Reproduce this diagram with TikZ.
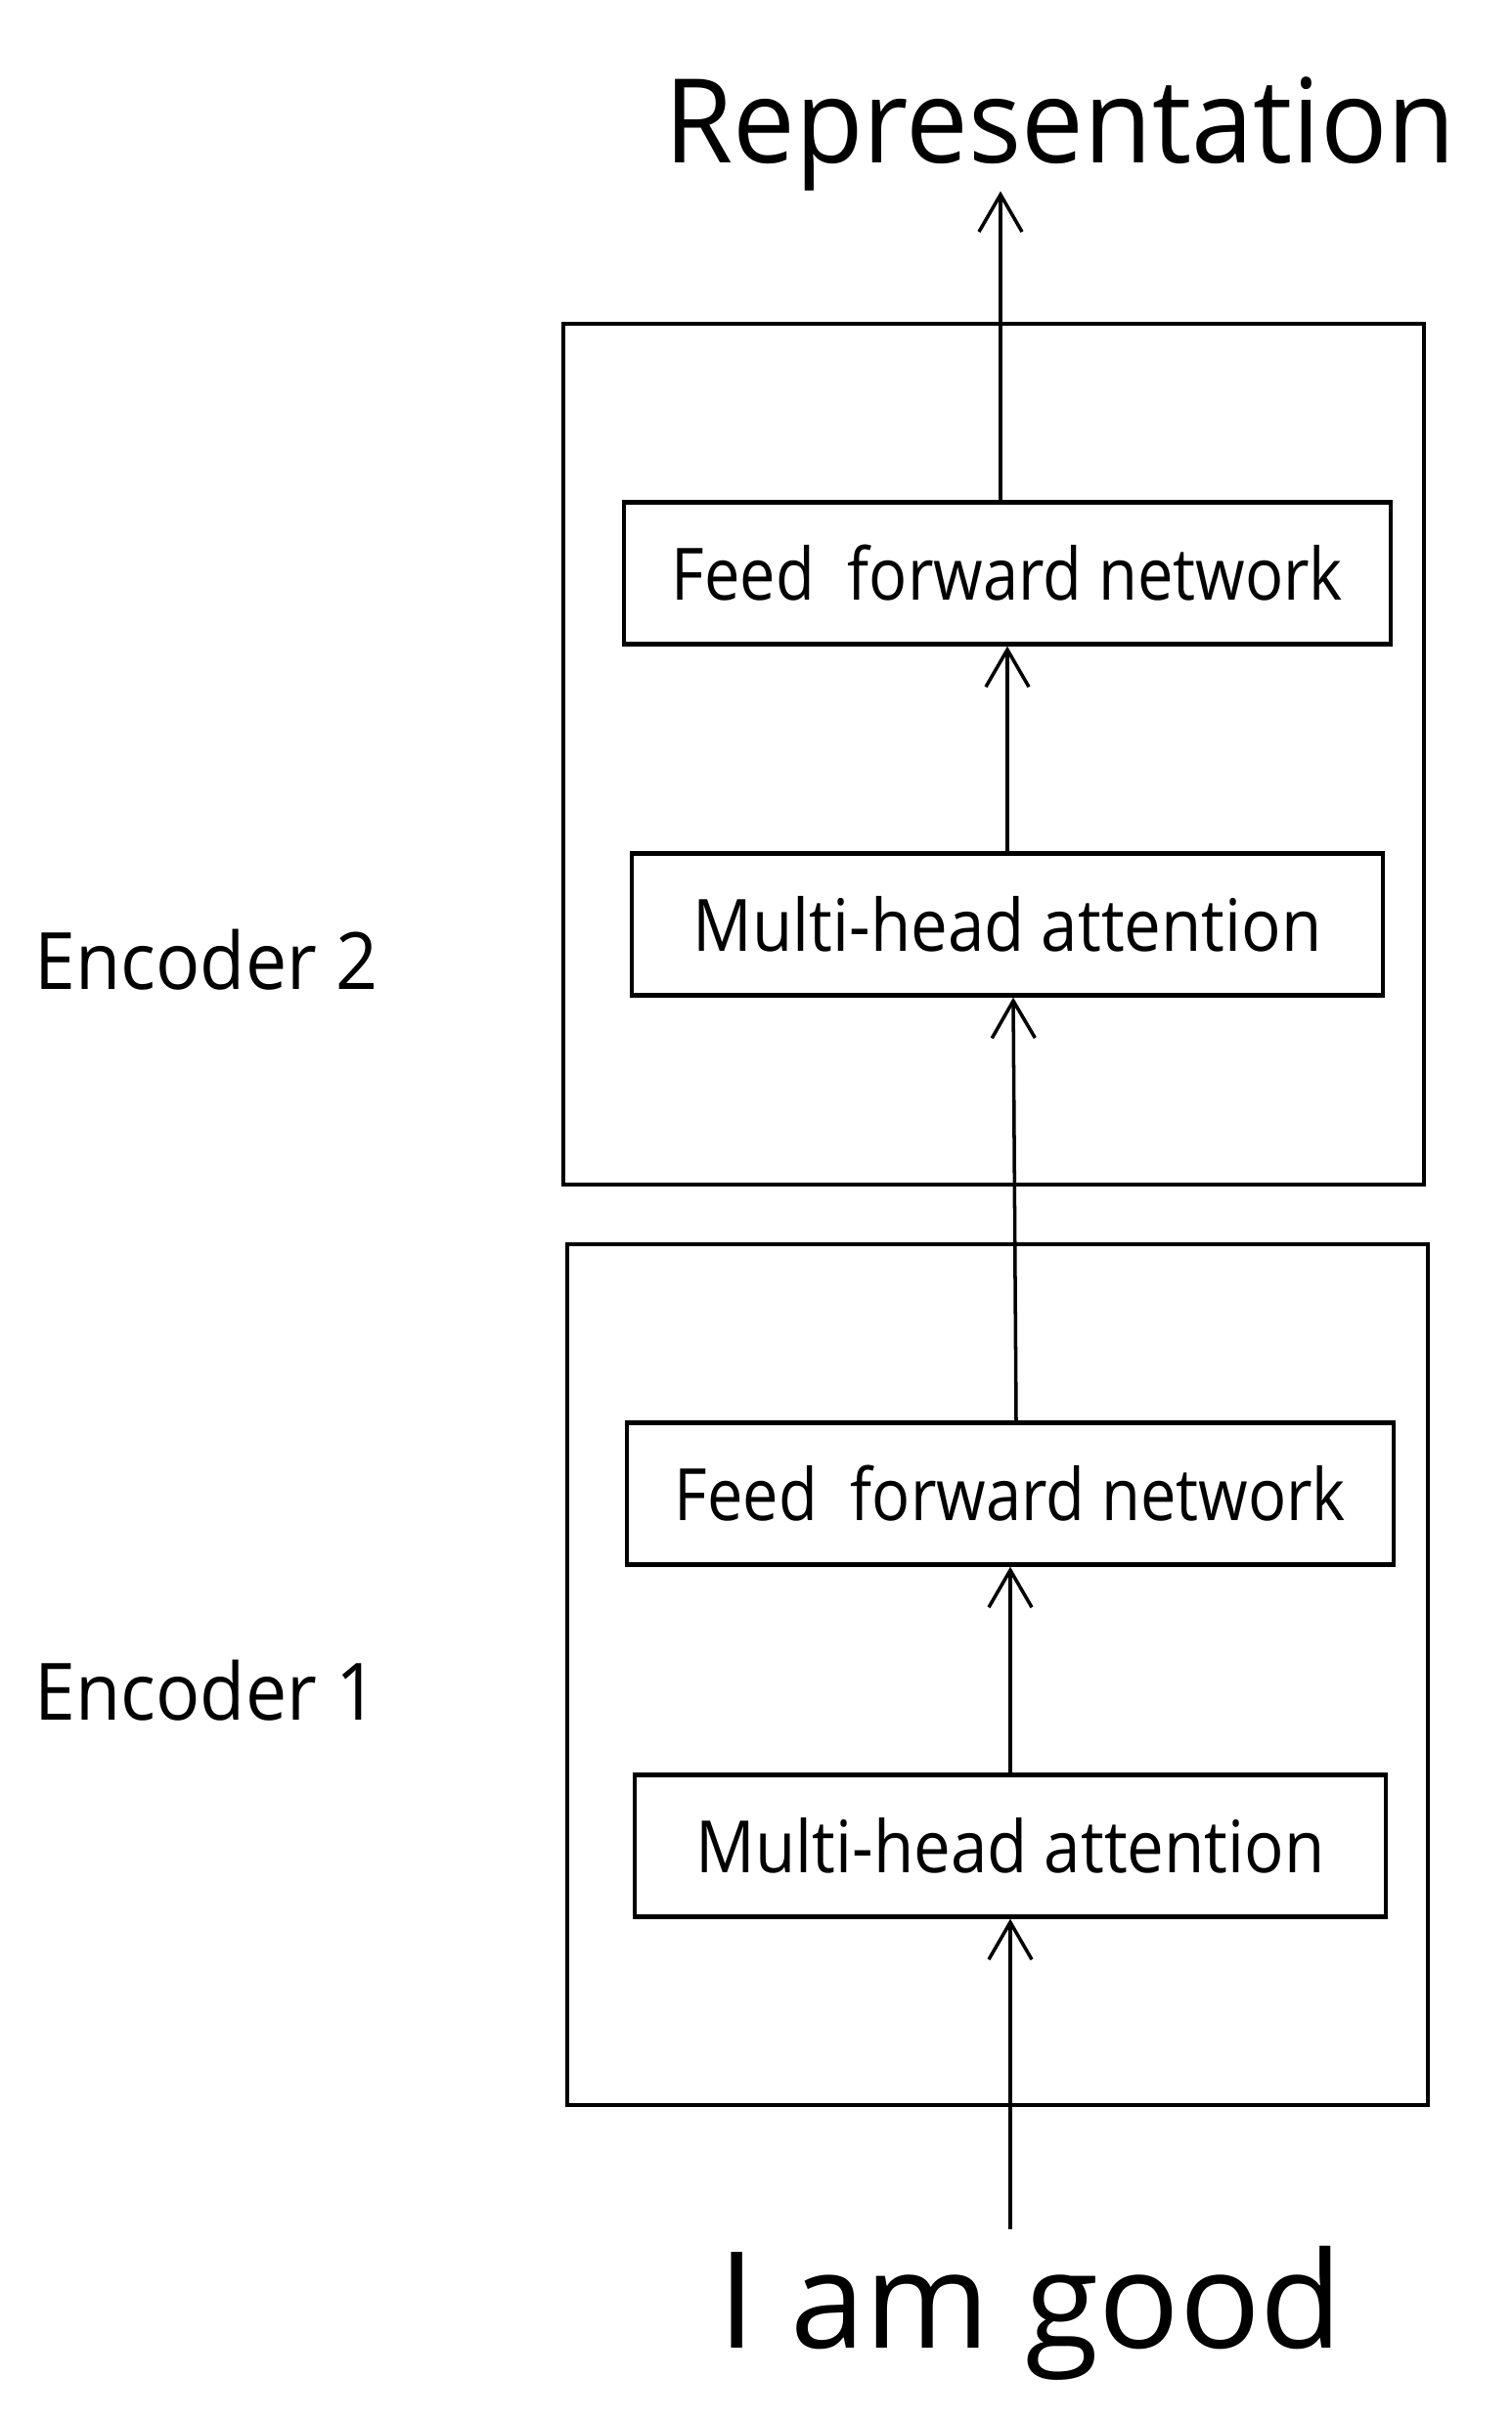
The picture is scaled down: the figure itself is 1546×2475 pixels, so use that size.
\documentclass[tikz,border=0pt]{standalone}
\usepackage{fontspec}
\setmainfont{Open Sans}
\newfontfamily\boxfont[FakeStretch=0.88]{Open Sans}
\newfontfamily\mhafont[FakeStretch=0.91]{Open Sans}
\newfontfamily\encfont[FakeStretch=0.93]{Open Sans}
\newfontfamily\repfont[FakeStretch=0.95]{Open Sans}
\usetikzlibrary{arrows.meta, positioning}

\begin{document}
\begin{tikzpicture}[x=0.01cm, y=-0.01cm,
    encbox/.style={draw, line width=1.2pt, minimum width=8.8cm, minimum height=8.79cm},
    layerbox/.style={draw, line width=1.2pt, minimum height=1.45cm, font=\boxfont\fontsize{21}{25}\selectfont},
    arr/.style={line width=1pt, -{Straight Barb[length=0.38cm, width=0.44cm]}},
    enclabel/.style={font=\encfont\fontsize{23}{28}\selectfont, anchor=base west, inner sep=0pt}]
  \path[use as bounding box, fill=white] (0,0) rectangle (1546,2475);
  % Encoder 2
  \node[encbox] (enc2) at (1016,771) {};
  \node[layerbox, minimum width=7.83cm] (ffn2) at (1030,586) {Feed~~forward network};
  \node[layerbox, minimum width=7.67cm, font=\mhafont\fontsize{21}{25}\selectfont] (mha2) at (1030,945) {Multi-head attention};
  \node[enclabel] (enc2lbl) at (35,1011) {Encoder 2};
  % Encoder 1
  \node[encbox] (enc1) at (1020,1712) {};
  \node[layerbox, minimum width=7.83cm] (ffn1) at (1033,1527) {Feed~~forward network};
  \node[layerbox, minimum width=7.68cm, font=\mhafont\fontsize{21}{25}\selectfont] (mha1) at (1033,1887) {Multi-head attention};
  \node[enclabel] (enc1lbl) at (35,1758) {Encoder 1};
  % input and output
  \node[anchor=base, inner sep=0pt, font=\repfont\fontsize{34}{40}\selectfont] (rep) at (1084,166) {Representation};
  \node[anchor=base, inner sep=0pt, outer sep=0.17cm, font=\fontsize{39}{46}\selectfont] (inp) at (1054,2400) {I am good};
  % flow
  \draw[arr] (inp.north -| mha1.south) -- (mha1.south);
  \draw[arr] (mha1.north) -- (ffn1.south);
  \draw[arr] ([xshift=0.06cm]ffn1.north) -- ([xshift=0.06cm]mha2.south);
  \draw[arr] (mha2.north) -- (ffn2.south);
  \draw[arr] ([xshift=-0.07cm]ffn2.north) -- ([xshift=-0.07cm]ffn2.north |- rep.south);
\end{tikzpicture}
\end{document}
